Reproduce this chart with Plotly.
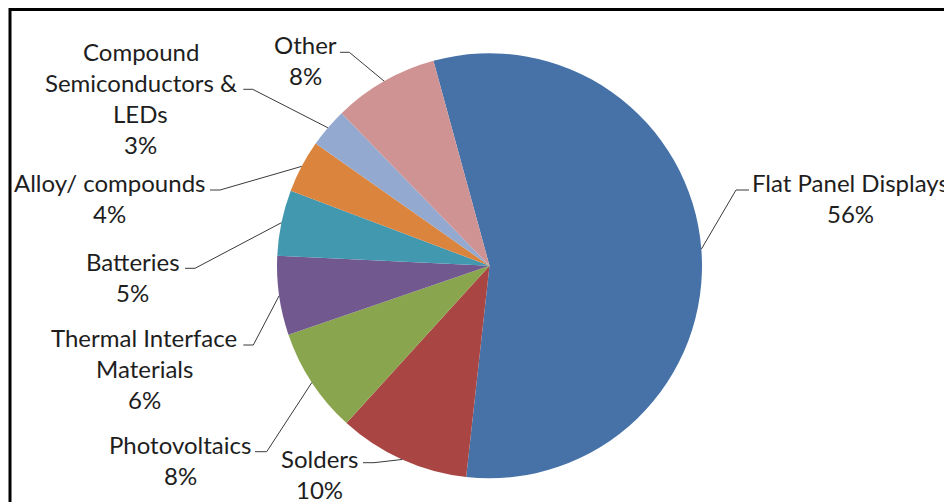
import math
import plotly.graph_objects as go

# Indium end uses, share of consumption (%)
categories = [
    "Flat Panel Displays",
    "Solders",
    "Photovoltaics",
    "Thermal Interface\nMaterials",
    "Batteries",
    "Alloy/ compounds",
    "Compound\nSemiconductors &\nLEDs",
    "Other",
]
shares = [56, 10, 8, 6, 5, 4, 3, 8]
colors = ["#4672A8", "#A94643", "#89A54E", "#71588F",
          "#4298AF", "#DB843D", "#93A9CF", "#D09393"]

W, H = 944, 502
CX, CY, R = 489.5, 265.8, 212.5
ROTATION = -15.3
FONT = "Lato"
FS = 24
LINE_GAP = 31

# label layout: centre x, first baseline y, leader start x, elbow x, leader y
label_pos = [
    (850.0, 190.0, 749.0, 736.0, 190.0),
    (319.5, 466.0, 363.0, 374.0, 462.7),
    (180.3, 452.7, 255.0, 266.7, 451.7),
    (144.0, 345.0, 243.3, 253.3, 345.0),
    (132.5, 269.0, 185.0, 195.0, 268.3),
    (109.5, 190.0, 210.0, 220.0, 190.0),
    (140.5, 59.3, 243.3, 252.7, 89.3),
    (305.0, 52.3, 340.0, 349.3, 52.3),
]


def px(x):
    return x / W


def py(y):
    return 1 - y / H


fig = go.Figure()
fig.add_trace(go.Pie(
    values=shares,
    labels=[c.replace("\n", " ") for c in categories],
    marker=dict(colors=colors, line=dict(width=0)),
    sort=False,
    direction="clockwise",
    rotation=ROTATION,
    textinfo="none",
    hoverinfo="label+percent",
    showlegend=False,
    domain=dict(x=[px(CX - R), px(CX + R)], y=[py(CY + R), py(CY - R)]),
))

annotations = []
shapes = []
total = sum(shares)
start = ROTATION
for name, val, (cx, by, lx0, lx1, ly) in zip(categories, shares, label_pos):
    span = 360.0 * val / total
    mid = math.radians(start + span / 2)
    start += span
    ex = CX + R * math.sin(mid)
    ey = CY - R * math.cos(mid)
    shapes.append(dict(
        type="path", xref="paper", yref="paper",
        path=f"M {px(lx0)} {py(ly)} L {px(lx1)} {py(ly)} L {px(ex)} {py(ey)}",
        line=dict(color="#3a3a3a", width=1),
    ))
    lines = name.split("\n") + [f"{val}%"]
    for i, txt in enumerate(lines):
        base = by + i * LINE_GAP
        annotations.append(dict(
            x=px(cx), y=py(base - 0.33 * FS), xref="paper", yref="paper",
            text=txt, showarrow=False, xanchor="center", yanchor="middle",
            font=dict(family=FONT, size=FS, color="#1e1e1e"),
        ))

# chart frame (top and left edges visible)
shapes.append(dict(type="line", xref="paper", yref="paper",
                   x0=px(9.5), y0=py(9.5), x1=px(W + 5), y1=py(9.5),
                   line=dict(color="#000000", width=3)))
shapes.append(dict(type="line", xref="paper", yref="paper",
                   x0=px(10), y0=py(8), x1=px(10), y1=py(H + 5),
                   line=dict(color="#000000", width=3)))

fig.update_layout(
    width=W, height=H,
    margin=dict(l=0, r=0, t=0, b=0),
    paper_bgcolor="white",
    plot_bgcolor="white",
    annotations=annotations,
    shapes=shapes,
)

fig.write_html("out.html")
